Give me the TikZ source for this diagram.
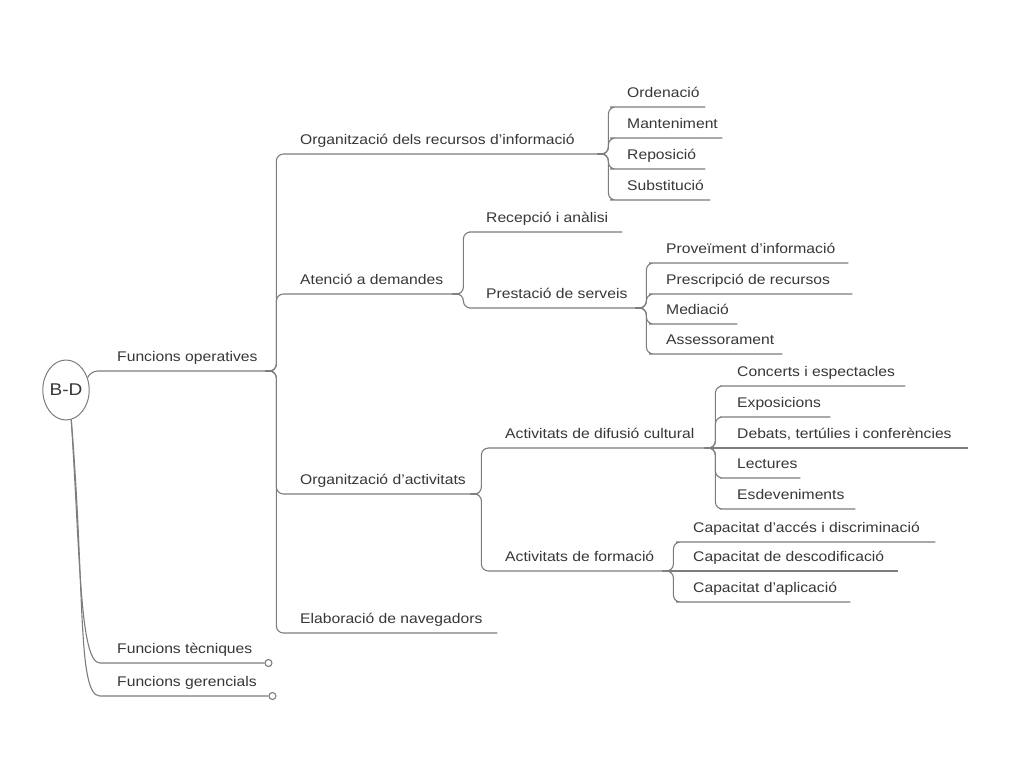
\documentclass[tikz,border=0pt]{standalone}
\usepackage{fontspec}
\setmainfont{Liberation Sans}[FakeStretch=1.12]
\usetikzlibrary{shapes.geometric}
\definecolor{linegray}{RGB}{125,125,125}
\definecolor{inkgray}{RGB}{55,55,55}

\begin{document}
\begin{tikzpicture}[
    x=1pt, y=-1pt,
    link/.style={draw=linegray, line width=1.1pt, rounded corners=7pt},
    topic/.style={anchor=south west, inner xsep=0pt, inner ysep=9pt, text depth=0pt,
        font=\fontsize{14}{16}\selectfont, text=inkgray,
        execute at begin node={\hbox to #1pt\bgroup\hskip10pt},
        execute at end node={\hss\egroup}},
    knob/.style={circle, draw=linegray, line width=1.1pt, fill=white, inner sep=0pt, minimum size=7pt, anchor=west}
]
    \path[fill=white, use as bounding box] (0,0) rectangle (1024,768);

    % Root
    \node[ellipse, draw=linegray, line width=1pt, minimum width=42pt, minimum height=60pt,
          inner sep=0pt, font=\fontsize{17}{20}\selectfont, text=inkgray] (bd) at (66,390) {B-D};

    % Level 1
    \node[topic=166] (fo) at (107,371) {Funcions operatives};
    \node[topic=157] (ft) at (107,663) {Funcions tècniques};
    \node[topic=161] (fg) at (107,696) {Funcions gerencials};

    % Level 2
    \node[topic=315] (orec) at (290,154) {Organització dels recursos d'informació};
    \node[topic=170] (aten) at (290,294) {Atenció a demandes};
    \node[topic=188] (oact) at (290,494) {Organització d'activitats};
    \node[topic=207] (nav)  at (290,633) {Elaboració de navegadors};

    % Level 3
    \node[topic=88]  (ord) at (617,107) {Ordenació};
    \node[topic=105] (man) at (617,138) {Manteniment};
    \node[topic=88]  (rep) at (617,169) {Reposició};
    \node[topic=93]  (sub) at (617,200) {Substitució};

    \node[topic=146] (rec)  at (476,232) {Recepció i anàlisi};
    \node[topic=167] (pres) at (476,308) {Prestació de serveis};

    \node[topic=217] (dif)  at (495,448) {Activitats de difusió cultural};
    \node[topic=175] (form) at (495,571) {Activitats de formació};

    % Level 4
    \node[topic=192] (prov)  at (656,263) {Proveïment d'informació};
    \node[topic=196] (presc) at (656,294) {Prescripció de recursos};
    \node[topic=81]  (med)   at (656,324) {Mediació};
    \node[topic=126] (ass)   at (656,354) {Assessorament};

    \node[topic=178] (conc) at (727,386) {Concerts i espectacles};
    \node[topic=103] (expo) at (727,417) {Exposicions};
    \node[topic=241] (deb)  at (727,448) {Debats, tertúlies i conferències};
    \node[topic=73]  (lect) at (727,478) {Lectures};
    \node[topic=128] (esd)  at (727,509) {Esdeveniments};

    \node[topic=252] (acc)  at (683,542) {Capacitat d'accés i discriminació};
    \node[topic=215] (desc) at (683,571) {Capacitat de descodificació};
    \node[topic=167] (apl)  at (683,602) {Capacitat d'aplicació};

    % Links from the root
    \draw[link] (bd.30) .. controls +(4,-7) and +(-10,0) .. (fo.south west) -- (fo.south east);
    \draw[link] (bd.-80) .. controls +(9,140) and +(-27,0) .. (ft.south west) -- (ft.south east);
    \draw[link] (bd.-80) .. controls +(14,170) and +(-30,0) .. (fg.south west) -- (fg.south east);
    \node[knob] (ftk) at (ft.south east) {};
    \node[knob] (fgk) at (fg.south east) {};

    % Branch links
    \foreach \p/\c in {fo/orec, fo/aten, fo/oact, fo/nav,
                       orec/ord, orec/man, orec/rep, orec/sub,
                       aten/rec, aten/pres,
                       pres/prov, pres/presc, pres/med, pres/ass,
                       oact/dif, oact/form,
                       dif/conc, dif/expo, dif/lect, dif/esd,
                       form/acc, form/apl}
        \draw[link] ([xshift=-8pt]\p.south east) -- ++(11,0) |- (\c.south west) -- (\c.south east);

    % Straight on
    \draw[link] (dif.south east) -- (deb.south west) -- (deb.south east);
    \draw[link] (form.south east) -- (desc.south west) -- (desc.south east);
\end{tikzpicture}
\end{document}
